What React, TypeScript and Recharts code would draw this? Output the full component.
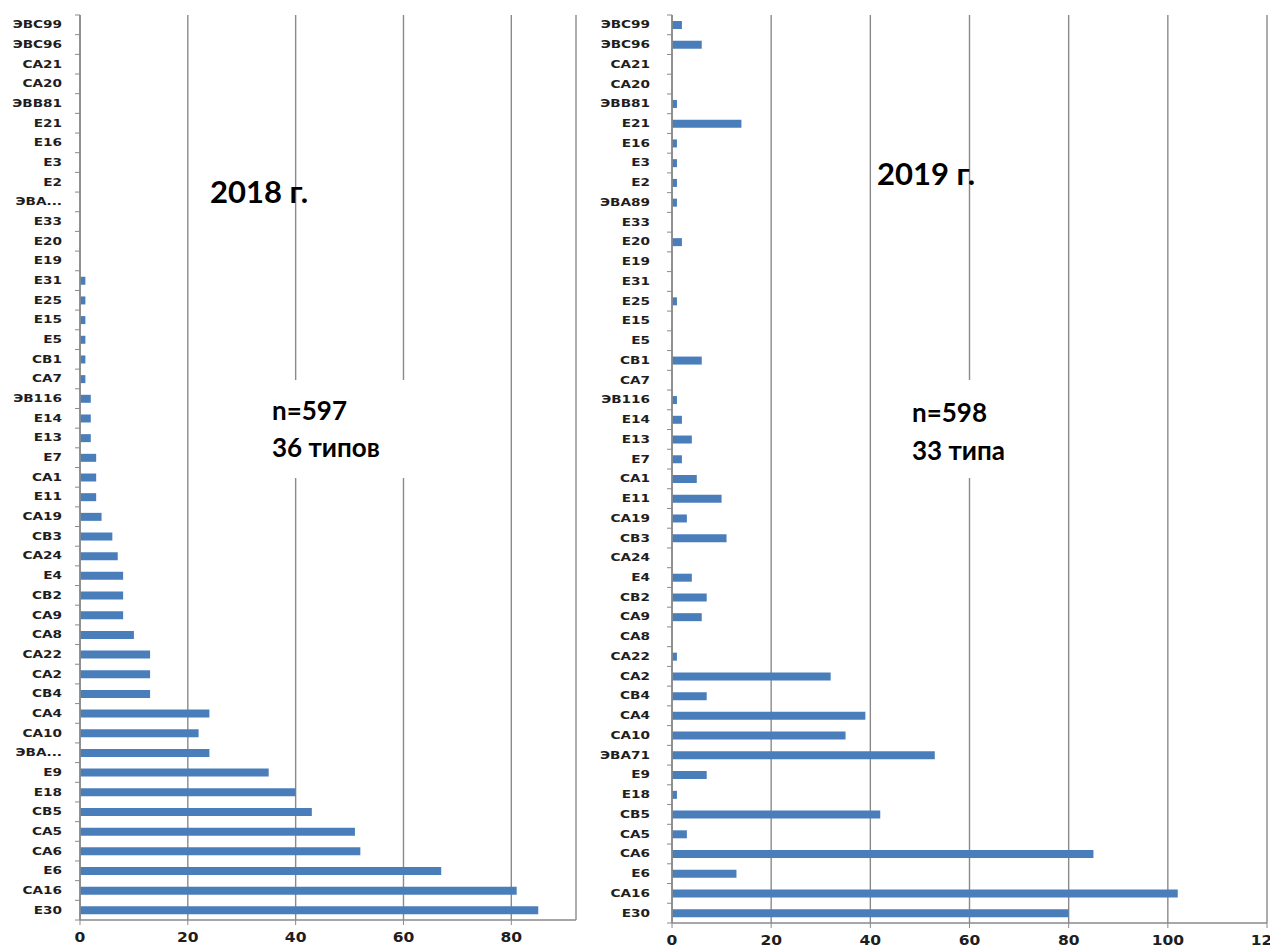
import React from 'react';
import { BarChart, Bar, XAxis, YAxis, CartesianGrid } from 'recharts';

const categories = [
  'ЭВС99', 'ЭВС96', 'СА21', 'СА20', 'ЭВВ81', 'Е21', 'Е16', 'Е3', 'Е2', 'ЭВА89',
  'Е33', 'Е20', 'Е19', 'Е31', 'Е25', 'Е15', 'Е5', 'СВ1', 'СА7', 'ЭВ116',
  'Е14', 'Е13', 'Е7', 'СА1', 'Е11', 'СА19', 'СВ3', 'СА24', 'Е4', 'СВ2',
  'СА9', 'СА8', 'СА22', 'СА2', 'СВ4', 'СА4', 'СА10', 'ЭВА71', 'Е9', 'Е18',
  'СВ5', 'СА5', 'СА6', 'Е6', 'СА16', 'Е30',
];

const labels2018 = [
  'ЭВС99', 'ЭВС96', 'СА21', 'СА20', 'ЭВВ81', 'Е21', 'Е16', 'Е3', 'Е2', 'ЭВА...',
  'Е33', 'Е20', 'Е19', 'Е31', 'Е25', 'Е15', 'Е5', 'СВ1', 'СА7', 'ЭВ116',
  'Е14', 'Е13', 'Е7', 'СА1', 'Е11', 'СА19', 'СВ3', 'СА24', 'Е4', 'СВ2',
  'СА9', 'СА8', 'СА22', 'СА2', 'СВ4', 'СА4', 'СА10', 'ЭВА...', 'Е9', 'Е18',
  'СВ5', 'СА5', 'СА6', 'Е6', 'СА16', 'Е30',
];

const labels2019 = categories;

const values2018 = [
  0, 0, 0, 0, 0, 0, 0, 0, 0, 0,
  0, 0, 0, 1, 1, 1, 1, 1, 1, 2,
  2, 2, 3, 3, 3, 4, 6, 7, 8, 8,
  8, 10, 13, 13, 13, 24, 22, 24, 35, 40,
  43, 51, 52, 67, 81, 85,
];

const values2019 = [
  2, 6, 0, 0, 1, 14, 1, 1, 1, 1,
  0, 2, 0, 0, 1, 0, 0, 6, 0, 1,
  2, 4, 2, 5, 10, 3, 11, 0, 4, 7,
  6, 0, 1, 32, 7, 39, 35, 53, 7, 1,
  42, 3, 85, 13, 102, 80,
];

const ticks2018 = [0, 20, 40, 60, 80];
const ticks2019 = [0, 20, 40, 60, 80, 100, 120];

const data2018 = categories.map((name, i) => ({ name, value: values2018[i] }));
const data2019 = categories.map((name, i) => ({ name, value: values2019[i] }));

const AXIS = '#8a8a8a';
const BAR = '#4a7ebb';
const LABEL_FONT = 'DejaVu Sans, sans-serif';

function CatTick(props: any) {
  const { x, y, index, labels, band, gap } = props;
  const axisX = x + gap;
  const label = labels[index];
  return (
    <g>
      <text
        transform={`translate(${x},${y}) scale(1.3,1)`}
        textAnchor="end"
        dominantBaseline="central"
        fontFamily={LABEL_FONT}
        fontWeight="bold"
        fontSize={10.5}
        fill="#1e1e1e"
      >
        {label}
      </text>
      {index === 0 ? (
        <line x1={axisX - 5} x2={axisX} y1={y - band / 2} y2={y - band / 2} stroke={AXIS} strokeWidth={1} />
      ) : null}
      <line x1={axisX - 5} x2={axisX} y1={y + band / 2} y2={y + band / 2} stroke={AXIS} strokeWidth={1} />
    </g>
  );
}

function NumTick(props: any) {
  const { x, y, payload } = props;
  return (
    <text
      transform={`translate(${x},${y}) scale(1.15,1)`}
      textAnchor="middle"
      dy="0.71em"
      fontFamily={LABEL_FONT}
      fontWeight="bold"
      fontSize={13.5}
      fill="#1e1e1e"
    >
      {payload.value}
    </text>
  );
}

type PanelProps = {
  width: number;
  height: number;
  data: any[];
  labels: string[];
  domain: [number, number];
  ticks: number[];
  yWidth: number;
  top: number;
  right: number;
  xHeight: number;
  gap: number;
};

function Panel(p: PanelProps) {
  const band = (p.height - p.top - p.xHeight) / p.data.length;
  return (
    <BarChart
      layout="vertical"
      width={p.width}
      height={p.height}
      data={p.data}
      margin={{ top: p.top, right: p.right, bottom: 0, left: 0 }}
    >
      <CartesianGrid horizontal={false} stroke={AXIS} strokeWidth={1.4} />
      <XAxis
        type="number"
        domain={p.domain}
        ticks={p.ticks}
        interval={0}
        allowDataOverflow
        height={p.xHeight}
        axisLine={{ stroke: AXIS, strokeWidth: 1.4 }}
        tickLine={{ stroke: AXIS }}
        tickSize={5}
        tickMargin={7}
        tick={(t: any) => <NumTick {...t} />}
      />
      <YAxis
        type="category"
        dataKey="name"
        width={p.yWidth}
        interval={0}
        axisLine={{ stroke: AXIS, strokeWidth: 1.6 }}
        tickLine={false}
        tickSize={6}
        tickMargin={p.gap - 6}
        tick={(t: any) => <CatTick {...t} labels={p.labels} band={band} gap={p.gap} />}
      />
      <Bar dataKey="value" fill={BAR} barSize={8} isAnimationActive={false} />
    </BarChart>
  );
}

export default function App() {
  return (
    <div
      style={{
        position: 'absolute',
        left: 0,
        top: 0,
        width: 1270,
        height: 951,
        background: '#ffffff',
        overflow: 'hidden',
      }}
    >
      <div style={{ position: 'absolute', left: 0, top: 0 }}>
        <Panel
          width={580}
          height={951}
          data={data2018}
          labels={labels2018}
          domain={[0, 92]}
          ticks={ticks2018}
          yWidth={80}
          top={15}
          right={4}
          xHeight={31}
          gap={18}
        />
      </div>
      <div style={{ position: 'absolute', left: 580, top: 0 }}>
        <Panel
          width={690}
          height={951}
          data={data2019}
          labels={labels2019}
          domain={[0, 120]}
          ticks={ticks2019}
          yWidth={92}
          top={15}
          right={3}
          xHeight={28}
          gap={22}
        />
      </div>
      <svg
        width={1270}
        height={951}
        style={{ position: 'absolute', left: 0, top: 0, pointerEvents: 'none' }}
      >
        <rect x={250} y={380} width={170} height={98} fill="#ffffff" />
        <rect x={905} y={380} width={140} height={98} fill="#ffffff" />
        <g fontFamily="Lato, 'Open Sans', sans-serif" fontWeight="bold" fill="#000000">
          <text x={210} y={203} fontSize={31}>2018 г.</text>
          <text x={272} y={420} fontSize={26}>n=597</text>
          <text x={272} y={457} fontSize={26}>36 типов</text>
          <text x={877} y={185} fontSize={31}>2019 г.</text>
          <text x={912} y={422} fontSize={26}>n=598</text>
          <text x={912} y={460} fontSize={26}>33 типа</text>
        </g>
      </svg>
    </div>
  );
}
